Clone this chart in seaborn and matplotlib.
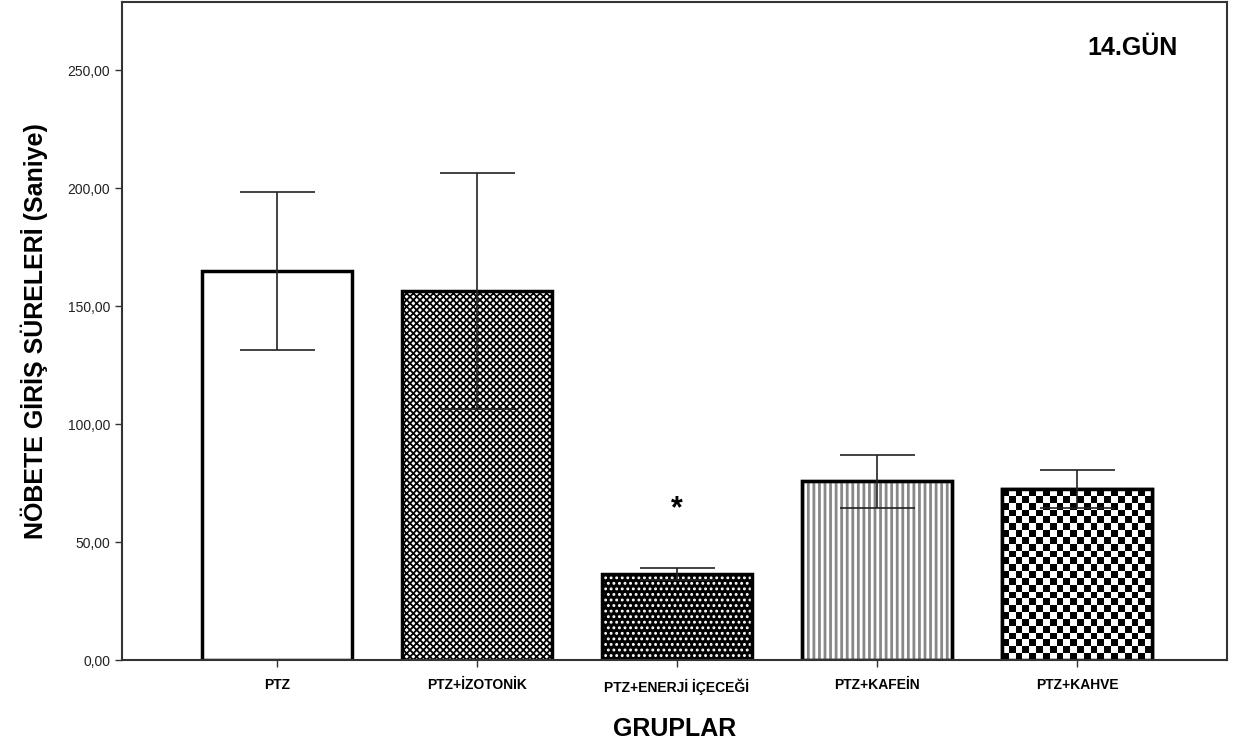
import numpy as np
import pandas as pd
import matplotlib
matplotlib.use("Agg")
import matplotlib.pyplot as plt
import seaborn as sns

groups = ["PTZ", "PTZ+İZOTONİK", "PTZ+ENERJİ İÇECEĞİ", "PTZ+KAFEİN", "PTZ+KAHVE"]
means = [165.0, 156.3, 36.5, 75.8, 72.5]
errors = [33.5, 50.0, 2.6, 11.2, 8.0]
yticks = [0, 50, 100, 150, 200, 250]
ytick_labels = ["0,00", "50,00", "100,00", "150,00", "200,00", "250,00"]

sns.set_style("white")
plt.rcParams['font.family'] = ['Liberation Sans', 'DejaVu Sans']
plt.rcParams['text.color'] = 'black'
plt.rcParams['axes.labelcolor'] = 'black'
plt.rcParams['xtick.color'] = 'black'
plt.rcParams['ytick.color'] = 'black'
plt.rcParams['hatch.linewidth'] = 1.3

fig = plt.figure(figsize=(12.35, 7.49), dpi=100)
ax = fig.add_axes([122/1235, 89/749, 1105/1235, 658/749])

df = pd.DataFrame({"grp": groups, "val": means})
sns.barplot(data=df, x="grp", y="val", ax=ax, width=0.75, errorbar=None,
            color="white", saturation=1)

bars = ax.patches
bars[0].set_facecolor("white")
bars[1].set_facecolor("white"); bars[1].set_hatch("xxxxx")
bars[2].set_facecolor("black"); bars[2].set_hatch("...")
bars[3].set_facecolor("white"); bars[3].set_hatch("|||")
bars[4].set_facecolor("white")
for i, b in enumerate(bars):
    b.set_linewidth(2.5)
    if i == 2:
        b.set_edgecolor("white")
        b.set_linewidth(0)
    elif i == 3:
        b.set_edgecolor("#888888")
        if hasattr(b, "set_hatch_linewidth"):
            b.set_hatch_linewidth(2.0)
    else:
        b.set_edgecolor("black")

# black outlines on top of patterned bars
for i in (2, 3):
    b = bars[i]
    ax.add_patch(plt.Rectangle((b.get_x(), b.get_y()), b.get_width(), b.get_height(),
                               fill=False, edgecolor="black", linewidth=2.5,
                               zorder=b.get_zorder() + 0.1))

# checkerboard for kahve
b4 = bars[4]
x0, w, h = b4.get_x(), b4.get_width(), b4.get_height()
nx = 22
ny = int(round(nx * (h * 2.36) / (w * 200)))
yy, xx = np.mgrid[0:ny, 0:nx]
board = ((xx + yy) % 2).astype(float)
im = ax.imshow(board, cmap="gray", extent=(x0, x0 + w, 0, h), aspect="auto",
               interpolation="nearest", zorder=b4.get_zorder() + 0.05, origin="lower")
im.set_clip_path(b4)
ax.add_patch(plt.Rectangle((x0, 0), w, h, fill=False, edgecolor="black",
                           linewidth=2.5, zorder=b4.get_zorder() + 0.1))

ax.errorbar(range(len(groups)), means, yerr=errors, fmt="none", ecolor="#222222",
            elinewidth=1.2, capsize=27, capthick=1.2, zorder=5)

ax.text(2, 64, "*", ha="center", va="center", fontsize=22, fontweight="bold")

ax.set_xlim(-0.775, 4.75)
ax.set_ylim(0, 279)
ax.set_yticks(yticks)
ax.set_yticklabels(ytick_labels, fontsize=10, color="#222222")
ax.set_xticks(range(len(groups)))
ax.set_xticklabels(groups, fontsize=10, fontweight="bold")
ax.tick_params(axis="both", direction="out", length=5, width=1, color="#333333",
               left=True, bottom=True)
ax.tick_params(axis="x", pad=8)
ax.set_xlabel("GRUPLAR", fontsize=18, fontweight="bold", labelpad=16)
ax.set_ylabel("NÖBETE GİRİŞ SÜRELERİ (Saniye)", fontsize=18, fontweight="bold", labelpad=14)

for s in ax.spines.values():
    s.set_visible(True)
    s.set_linewidth(1.5)
    s.set_color("#333333")

ax.text(0.955, 0.93, "14.GÜN", transform=ax.transAxes, ha="right", va="center",
        fontsize=18, fontweight="bold")

fig.savefig("out.png", dpi=100)
